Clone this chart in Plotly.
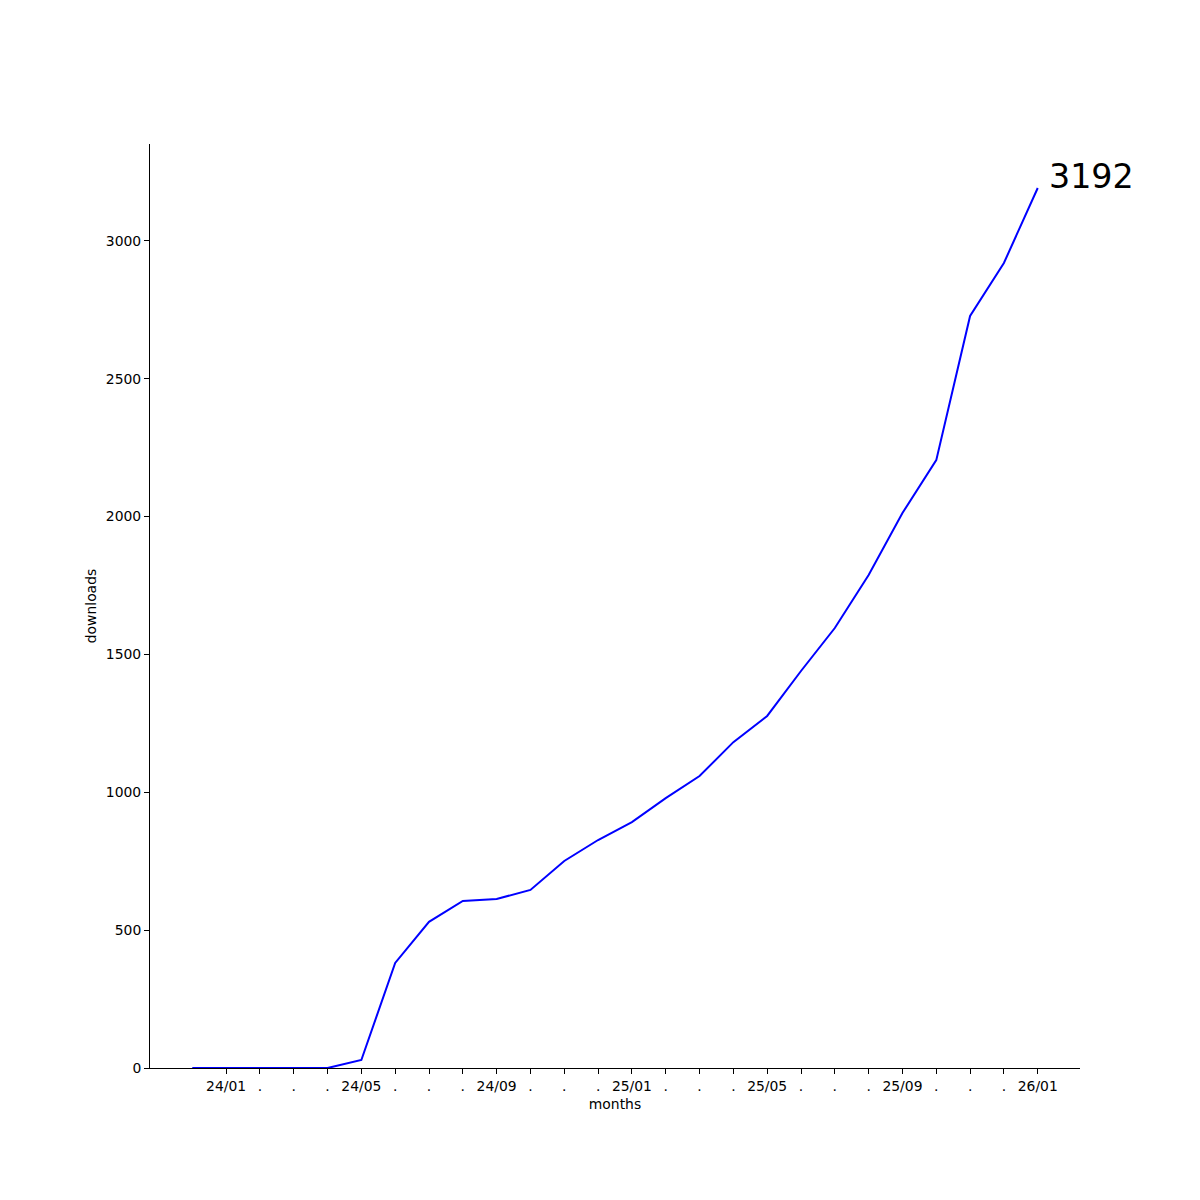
import plotly.graph_objects as go

months = ["23/12", "24/01", "24/02", "24/03", "24/04", "24/05", "24/06", "24/07", "24/08",
          "24/09", "24/10", "24/11", "24/12", "25/01", "25/02", "25/03", "25/04", "25/05",
          "25/06", "25/07", "25/08", "25/09", "25/10", "25/11", "25/12", "26/01"]
downloads = [0, 0, 0, 0, 0, 29, 381, 530, 606, 613, 646, 751, 827, 892, 979, 1059, 1182,
             1277, 1440, 1596, 1788, 2013, 2205, 2728, 2920, 3192]
tick_months = months[1:]
tick_labels = [m if i % 4 == 0 else "." for i, m in enumerate(tick_months)]
y_ticks = [0, 500, 1000, 1500, 2000, 2500, 3000]

x_idx = list(range(len(months)))
tick_pos = [months.index(m) for m in tick_months]

font = dict(family="DejaVu Sans", size=13.9, color="black")

fig = go.Figure()
fig.add_trace(go.Scatter(x=x_idx, y=downloads, mode="lines",
                         line=dict(color="blue", width=2), showlegend=False,
                         hoverinfo="skip"))
fig.add_annotation(x=x_idx[-1], y=downloads[-1], text=str(downloads[-1]),
                   showarrow=False, xanchor="left", yanchor="middle",
                   xshift=9, yshift=12,
                   font=dict(family="DejaVu Sans", size=33.3, color="black"))

n = len(months) - 1
fig.update_layout(
    width=1200, height=1200,
    margin=dict(l=142, r=128, t=136, b=140),
    plot_bgcolor="white", paper_bgcolor="white",
    font=font,
    xaxis=dict(range=[-0.05 * n, n * 1.05], tickmode="array", tickvals=tick_pos,
               ticktext=tick_labels, ticks="outside", ticklen=5, tickcolor="black",
               tickwidth=1, showline=True, linecolor="black", linewidth=1,
               showgrid=False, zeroline=False, tickfont=font,
               title=dict(text="months", font=font, standoff=6)),
    yaxis=dict(range=[0, max(downloads) * 1.05], tickmode="array", tickvals=y_ticks,
               ticks="outside", ticklen=5, tickcolor="black", tickwidth=1,
               showline=True, linecolor="black", linewidth=1, showgrid=False,
               zeroline=False, tickfont=font,
               title=dict(text="downloads", font=font, standoff=5)),
)
fig.write_html("out.html")
